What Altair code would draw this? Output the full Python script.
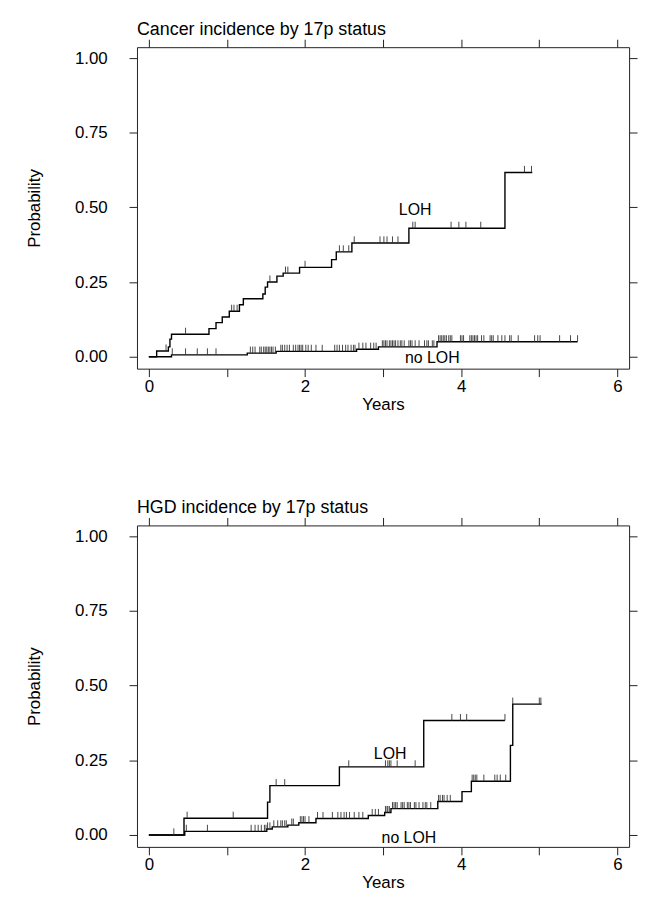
import altair as alt
import numpy as np
import pandas as pd

FONT = "Liberation Sans"

# ---------------- Panel 1: Cancer incidence ----------------
c_loh_t = [0, 0.10, 0.25, 0.27, 0.29, 0.77, 0.86, 0.94, 1.03, 1.16, 1.21, 1.46, 1.49, 1.52,
           1.64, 1.72, 1.93, 2.34, 2.40, 2.60, 3.33, 4.56]
c_loh_p = [0, 0.019, 0.033, 0.059, 0.075, 0.094, 0.114, 0.133, 0.152, 0.174, 0.194, 0.21, 0.233, 0.25,
           0.27, 0.28, 0.299, 0.325, 0.351, 0.381, 0.43, 0.617]
c_loh_end = 4.91
c_loh_cens = [0.22, 0.47, 1.06, 1.09, 1.13, 1.55, 1.75, 1.78, 2.0, 2.44, 2.49, 2.56, 2.63, 2.96, 3.01,
              3.05, 3.12, 3.19, 3.38, 3.41, 3.87, 3.97, 4.06, 4.25, 4.81, 4.90]

c_no_t = [0, 0.29, 1.26, 1.63, 2.66, 2.94, 3.69]
c_no_p = [0, 0.006, 0.012, 0.018, 0.025, 0.033, 0.05]
c_no_end = 5.49
c_no_cens = [0.30, 0.47, 0.62, 0.75, 0.86,
             1.30, 1.33, 1.36, 1.42, 1.44, 1.47, 1.49, 1.51, 1.53, 1.55, 1.57, 1.59, 1.62,
             1.69, 1.71, 1.74, 1.77, 1.80, 1.85, 1.88, 1.91, 1.93, 1.95, 1.97, 2.01, 2.04, 2.08,
             2.14, 2.22, 2.38, 2.41, 2.44, 2.48, 2.52, 2.55, 2.59, 2.62, 2.64,
             2.69, 2.74, 2.78, 2.84, 2.88, 2.91,
             2.99, 3.01, 3.03, 3.05, 3.08, 3.10, 3.12, 3.14, 3.16, 3.19, 3.22, 3.24, 3.27, 3.33,
             3.35, 3.37, 3.41, 3.46, 3.53, 3.56, 3.58, 3.63, 3.65,
             3.71, 3.73, 3.75, 3.77, 3.79, 3.81, 3.84, 3.86, 3.88, 3.99, 4.01, 4.03, 4.11, 4.13,
             4.15, 4.17, 4.19, 4.21, 4.26, 4.29, 4.37, 4.39, 4.41, 4.47, 4.52, 4.56, 4.62, 4.64,
             4.73, 4.94, 4.98, 5.01, 5.26, 5.40, 5.49]

# ---------------- Panel 2: HGD incidence ----------------
h_loh_t = [0, 0.45, 1.52, 1.55, 2.44, 3.52]
h_loh_p = [0, 0.056, 0.11, 0.165, 0.228, 0.383]
h_loh_end = 4.56
h_loh_cens = [0.49, 1.08, 1.63, 1.74, 2.56, 3.03, 3.06, 3.08, 3.10, 3.18, 3.41, 3.88, 3.99, 4.07, 4.56]

h_no_t = [0, 0.46, 1.51, 1.58, 1.78, 1.92, 2.14, 2.81, 3.02, 3.10, 3.70, 4.01, 4.13, 4.63, 4.66]
h_no_p = [0, 0.012, 0.02, 0.027, 0.033, 0.041, 0.055, 0.065, 0.075, 0.088, 0.112, 0.145, 0.18, 0.30, 0.438]
h_no_end = 5.03
h_no_cens = [0.32, 0.48, 0.75, 1.31, 1.36, 1.40, 1.44, 1.48, 1.50, 1.52, 1.55, 1.60, 1.65, 1.69, 1.71,
             1.74, 1.76, 1.83, 1.85, 1.94, 1.96, 1.98, 2.0, 2.05, 2.16, 2.23, 2.35, 2.42, 2.46, 2.50,
             2.53, 2.57, 2.63, 2.69, 2.74, 2.86, 2.90, 2.94, 3.03, 3.05, 3.06, 3.08, 3.12, 3.14, 3.16,
             3.18, 3.23, 3.25, 3.27, 3.31, 3.33, 3.35, 3.40, 3.42, 3.46, 3.51, 3.54, 3.56, 3.61, 3.71,
             3.73, 3.76, 3.78, 3.82, 3.86, 4.14, 4.16, 4.18, 4.20, 4.29, 4.43, 4.46, 4.50, 4.57, 4.66,
             5.0, 5.02]

# curve labels
c_lab_text = ["LOH", "no LOH"]
c_lab_x = [3.41, 3.63]
c_lab_y = [0.49, -0.005]
h_lab_text = ["LOH", "no LOH"]
h_lab_x = [3.09, 3.33]
h_lab_y = [0.272, -0.01]

x_ticks = [0, 1, 2, 3, 4, 5, 6]
y_ticks = [0, 0.25, 0.5, 0.75, 1.0]
XDOM = [-0.152, 6.15]
YDOM = [-0.04, 1.0365]


def step_df(t, p, end, g):
    return pd.DataFrame({"t": list(t) + [end], "p": list(p) + [p[-1]], "g": g})


def censor_df(t, p, cens, g):
    idx = np.searchsorted(np.array(t), np.array(cens), side="right") - 1
    return pd.DataFrame({"t": cens, "p": np.array(p)[idx], "g": g})


def panel(title, loh, no, lab):
    lines = pd.concat([step_df(loh[0], loh[1], loh[2], "LOH"),
                       step_df(no[0], no[1], no[2], "no LOH")])
    cens = pd.concat([censor_df(loh[0], loh[1], loh[3], "LOH"),
                      censor_df(no[0], no[1], no[3], "no LOH")])
    labs = pd.DataFrame({"label": lab[0], "x": lab[1], "y": lab[2]})
    xs = alt.Scale(domain=XDOM, nice=False, zero=False)
    ys = alt.Scale(domain=YDOM, nice=False, zero=False)

    line = alt.Chart(lines).mark_line(
        interpolate="step-after", color="black", strokeWidth=1.4
    ).encode(
        x=alt.X("t:Q", scale=xs, axis=alt.Axis(
            orient="bottom", values=x_ticks, title="Years",
            labelExpr="datum.value % 2 == 0 ? datum.label : ''",
            tickSize=8, labelPadding=2, titlePadding=2)),
        y=alt.Y("p:Q", scale=ys, axis=alt.Axis(
            orient="left", values=y_ticks, format=".2f", title="Probability",
            tickSize=8, labelPadding=22, titlePadding=31)),
        detail="g:N",
    )
    ticks = alt.Chart(cens).transform_calculate(p2="datum.p + 0.022").mark_rule(
        color="#333333", strokeWidth=0.9
    ).encode(
        x=alt.X("t:Q", scale=xs, axis=alt.Axis(
            orient="top", values=x_ticks, labels=False, title=None, tickSize=8)),
        y=alt.Y("p:Q", scale=ys, axis=alt.Axis(
            orient="right", values=y_ticks, labels=False, title=None, tickSize=8)),
        y2="p2:Q",
    )
    text = alt.Chart(labs).mark_text(
        font=FONT, fontSize=16, color="black", baseline="middle"
    ).encode(
        x=alt.X("x:Q", scale=xs, axis=None),
        y=alt.Y("y:Q", scale=ys, axis=None),
        text="label:N",
    )
    return alt.layer(line, ticks, text).properties(
        width=496, height=324,
        title=alt.TitleParams(title, anchor="start", frame="group", fontSize=18, font=FONT,
                              fontWeight="normal", color="black", offset=0),
    )


p1 = panel("Cancer incidence by 17p status",
           (c_loh_t, c_loh_p, c_loh_end, c_loh_cens),
           (c_no_t, c_no_p, c_no_end, c_no_cens),
           (c_lab_text, c_lab_x, c_lab_y))
p2 = panel("HGD incidence by 17p status",
           (h_loh_t, h_loh_p, h_loh_end, h_loh_cens),
           (h_no_t, h_no_p, h_no_end, h_no_cens),
           (h_lab_text, h_lab_x, h_lab_y))

chart = alt.vconcat(p1, p2, spacing=86).configure(
    background="white", padding={"left": 17, "top": 9, "right": 5, "bottom": 0}
).configure_view(
    stroke="#222222", strokeWidth=1
).configure_axis(
    grid=False, domain=False, tickColor="#222222", tickWidth=1,
    labelFont=FONT, titleFont=FONT, labelFontSize=17, titleFontSize=17,
    titleFontWeight="normal", labelColor="black", titleColor="black",
)

chart.save("out.html", embed_options={"renderer": "svg", "actions": False})
